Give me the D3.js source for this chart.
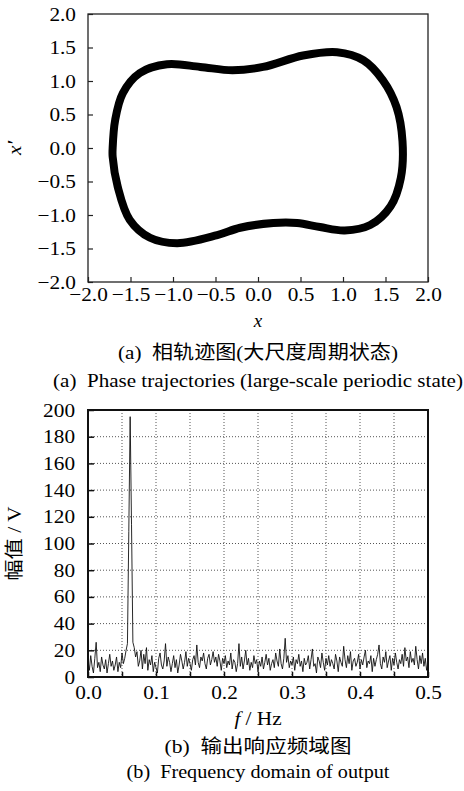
<!DOCTYPE html>
<html>
<head>
<meta charset="utf-8">
<script src="https://cdn.jsdelivr.net/npm/d3@7"></script>
<style>
  body { margin: 0; background: #fff; }
  svg text { font-family: "Liberation Serif", "Times New Roman", serif; fill: #000; }
  .cjk { font-family: "Liberation Serif", "Noto Sans CJK SC", serif; }
</style>
</head>
<body>
<svg id="chart" width="464" height="791"></svg>
<script>
// phase trajectory (x, x')
const trajX = [-1.71, -1.68, -1.59, -1.39, -1.07, -0.68, -0.30, 0.06, 0.53, 0.93, 1.24, 1.47, 1.63, 1.70,
               1.68, 1.56, 1.32, 1.02, 0.73, 0.46, 0.18, -0.21, -0.48, -0.95, -1.27, -1.51, -1.65, -1.71];
const trajV = [0.00, 0.42, 0.82, 1.12, 1.25, 1.21, 1.16, 1.21, 1.38, 1.43, 1.31, 1.01, 0.61, 0.10,
               -0.45, -0.87, -1.15, -1.23, -1.18, -1.12, -1.12, -1.19, -1.30, -1.42, -1.34, -1.07, -0.58, -0.13];
const phaseTicks = [-2.0, -1.5, -1.0, -0.5, 0.0, 0.5, 1.0, 1.5, 2.0];

// spectrum amplitude, sampled every 0.002 Hz from 0 to 0.5
const freqStep = 0.002;
const amp = [
  12, 5, 16, 8, 3, 14, 26, 7, 11, 4, 15, 9, 6, 13, 3, 10, 17, 8, 12, 5, 9, 15, 4, 11, 7, 18, 10, 14, 20, 25,
  109, 195, 114, 26,
  22, 15, 19, 8, 12, 20, 6, 17, 10, 22, 5, 13, 9, 16, 4, 11, 7, 3, 14, 18, 9, 6, 12, 25, 8, 15, 11,
  4, 10, 16, 7, 13, 3, 9, 17, 12, 6, 11, 19, 8, 14, 10, 5, 13, 16, 9, 24, 11, 7, 15, 12, 18, 10, 6, 14, 17, 9,
  13, 19, 11, 15, 8, 17, 12, 5, 14, 10, 16, 7, 12, 9, 18, 6, 13, 11, 4, 10, 25, 8, 15, 6, 12, 20, 9, 14, 5, 11,
  7, 16, 10, 13, 4, 12, 8, 15, 6, 11, 17, 9, 14, 5, 10, 13, 7, 18, 12, 8, 21, 10, 6, 14, 29, 11, 16, 7, 12, 9,
  15, 5, 13, 10, 17, 8, 12, 4, 14, 9, 11, 16, 6, 13, 21, 8, 10, 3, 15, 12, 7, 18, 11, 5, 14, 9, 16, 8, 13, 10,
  6, 17, 12, 4, 15, 11, 8, 23, 13, 7, 16, 10, 19, 5, 12, 14, 8, 11, 17, 6, 13, 9, 15, 20, 7, 12, 10, 16, 4, 14,
  8, 13, 17, 24, 10, 6, 15, 11, 19, 7, 12, 16, 5, 14, 9, 18, 11, 6, 13, 10, 17, 8, 22, 12, 15, 7, 19, 11, 14, 9,
  23, 13, 6, 16, 10, 18, 8, 14, 5, 11
];
const freqTicks = [0.0, 0.1, 0.2, 0.3, 0.4, 0.5];
const freqMinor = [0.05, 0.15, 0.25, 0.35, 0.45];
const ampTicks = [0, 20, 40, 60, 80, 100, 120, 140, 160, 180, 200];

const captionA1 = '(a)\u00a0\u00a0相轨迹图(大尺度周期状态)';
const captionA2 = '(a)\u00a0\u00a0Phase trajectories (large-scale periodic state)';
const captionB1 = '(b)\u00a0\u00a0输出响应频域图';
const captionB2 = '(b)\u00a0\u00a0Frequency domain of output';

const FS = 19;
const SX = 1.12;   // the reference type is set a little wide
const svg = d3.select('#chart');

// caption centred at x=258, squeezed/stretched to the printed width
function caption(str, y, width, cls) {
    const t = svg.append('text').attr('class', cls || null)
        .attr('text-anchor', 'middle').attr('font-size', FS)
        .text(str);
    const len = t.node().getComputedTextLength() || width;
    t.attr('transform', `translate(258,${y}) scale(${width / len},1)`);
}

// widen tick labels horizontally without moving their anchor
function widen(sel) {
    sel.each(function () {
        const x0 = +(this.getAttribute('x') || 0);
        d3.select(this).attr('x', x0 / SX).attr('transform', `scale(${SX},1)`);
    });
}

function drawPhase() {
    const box = { left: 88, right: 428, top: 14, bottom: 282 };
    const x = d3.scaleLinear().domain([-2, 2]).range([box.left, box.right]);
    const y = d3.scaleLinear().domain([-2, 2]).range([box.bottom, box.top]);

    const pts = trajX.map((v, i) => [v, trajV[i]]);
    const line = d3.line()
        .x(d => x(d[0]))
        .y(d => y(d[1]))
        .curve(d3.curveCatmullRomClosed.alpha(0.5));

    svg.append('path')
        .attr('d', line(pts))
        .attr('fill', 'none')
        .attr('stroke', '#000')
        .attr('stroke-width', 8);

    // frame
    svg.append('rect')
        .attr('x', box.left).attr('y', box.top)
        .attr('width', box.right - box.left).attr('height', box.bottom - box.top)
        .attr('fill', 'none').attr('stroke', '#222').attr('stroke-width', 1.3);

    const fmt = d3.format('.1f');
    const gx = svg.append('g')
        .attr('transform', `translate(0,${box.bottom})`)
        .call(d3.axisBottom(x).tickValues(phaseTicks).tickFormat(fmt).tickSizeInner(-5).tickSizeOuter(0).tickPadding(6));
    const gy = svg.append('g')
        .attr('transform', `translate(${box.left},0)`)
        .call(d3.axisLeft(y).tickValues(phaseTicks).tickFormat(fmt).tickSizeInner(-5).tickSizeOuter(0).tickPadding(12));
    [gx, gy].forEach(g => {
        g.select('.domain').remove();
        g.selectAll('line').attr('stroke', '#222').attr('stroke-width', 1.2);
        g.selectAll('text').attr('font-size', FS).call(widen);
    });

    svg.append('text')
        .attr('x', (box.left + box.right) / 2).attr('y', 327)
        .attr('text-anchor', 'middle').attr('font-size', FS).attr('font-style', 'italic')
        .text('x');

    svg.append('text')
        .attr('transform', `translate(21,${(box.top + box.bottom) / 2}) rotate(-90) scale(${SX},1)`)
        .attr('text-anchor', 'middle').attr('font-size', FS).attr('font-style', 'italic')
        .text('x\u2032');

    caption(captionA1, 359, 280, 'cjk');
    caption(captionA2, 387, 410);
}

function drawSpectrum() {
    const box = { left: 88, right: 428, top: 410, bottom: 677 };
    const x = d3.scaleLinear().domain([0, 0.5]).range([box.left, box.right]);
    const y = d3.scaleLinear().domain([0, 200]).range([box.bottom, box.top]);

    const grid = svg.append('g');
    freqTicks.concat(freqMinor).filter(f => f > 0 && f < 0.5).forEach(f => {
        grid.append('line')
            .attr('x1', x(f)).attr('x2', x(f)).attr('y1', box.top).attr('y2', box.bottom)
            .attr('stroke', '#555').attr('stroke-width', 1).attr('stroke-dasharray', '1,2');
    });
    ampTicks.filter(a => a > 0 && a < 200).forEach(a => {
        grid.append('line')
            .attr('x1', box.left).attr('x2', box.right).attr('y1', y(a)).attr('y2', y(a))
            .attr('stroke', '#555').attr('stroke-width', 1).attr('stroke-dasharray', '1,2');
    });

    const line = d3.line()
        .x((d, i) => x(i * freqStep))
        .y(d => y(d));
    svg.append('path')
        .attr('d', line(amp))
        .attr('fill', 'none')
        .attr('stroke', '#111')
        .attr('stroke-width', 0.9);

    svg.append('rect')
        .attr('x', box.left).attr('y', box.top)
        .attr('width', box.right - box.left).attr('height', box.bottom - box.top)
        .attr('fill', 'none').attr('stroke', '#111').attr('stroke-width', 2);

    const gx = svg.append('g')
        .attr('transform', `translate(0,${box.bottom})`)
        .call(d3.axisBottom(x).tickValues(freqTicks).tickFormat(d3.format('.1f')).tickSizeInner(-5).tickSizeOuter(0).tickPadding(9));
    const gm = svg.append('g')
        .attr('transform', `translate(0,${box.bottom})`)
        .call(d3.axisBottom(x).tickValues(freqMinor).tickFormat('').tickSizeInner(-5).tickSizeOuter(0));
    const gy = svg.append('g')
        .attr('transform', `translate(${box.left},0)`)
        .call(d3.axisLeft(y).tickValues(ampTicks).tickFormat(d3.format('d')).tickSizeInner(-6).tickSizeOuter(0).tickPadding(13));
    [gx, gm, gy].forEach(g => {
        g.select('.domain').remove();
        g.selectAll('line').attr('stroke', '#111').attr('stroke-width', 1.5);
        g.selectAll('text').attr('font-size', FS).call(widen);
    });

    const xl = svg.append('text')
        .attr('transform', `translate(${(box.left + box.right) / 2},725) scale(${SX},1)`)
        .attr('text-anchor', 'middle').attr('font-size', FS);
    xl.append('tspan').attr('font-style', 'italic').text('f');
    xl.append('tspan').text('\u00a0/ Hz');

    svg.append('text').attr('class', 'cjk')
        .attr('transform', `translate(21,${(box.top + box.bottom) / 2}) rotate(-90) scale(${SX},1)`)
        .attr('text-anchor', 'middle').attr('font-size', FS)
        .text('幅值\u00a0/ V');

    caption(captionB1, 753, 187, 'cjk');
    caption(captionB2, 778, 263);
}

drawPhase();
drawSpectrum();
</script>
</body>
</html>
